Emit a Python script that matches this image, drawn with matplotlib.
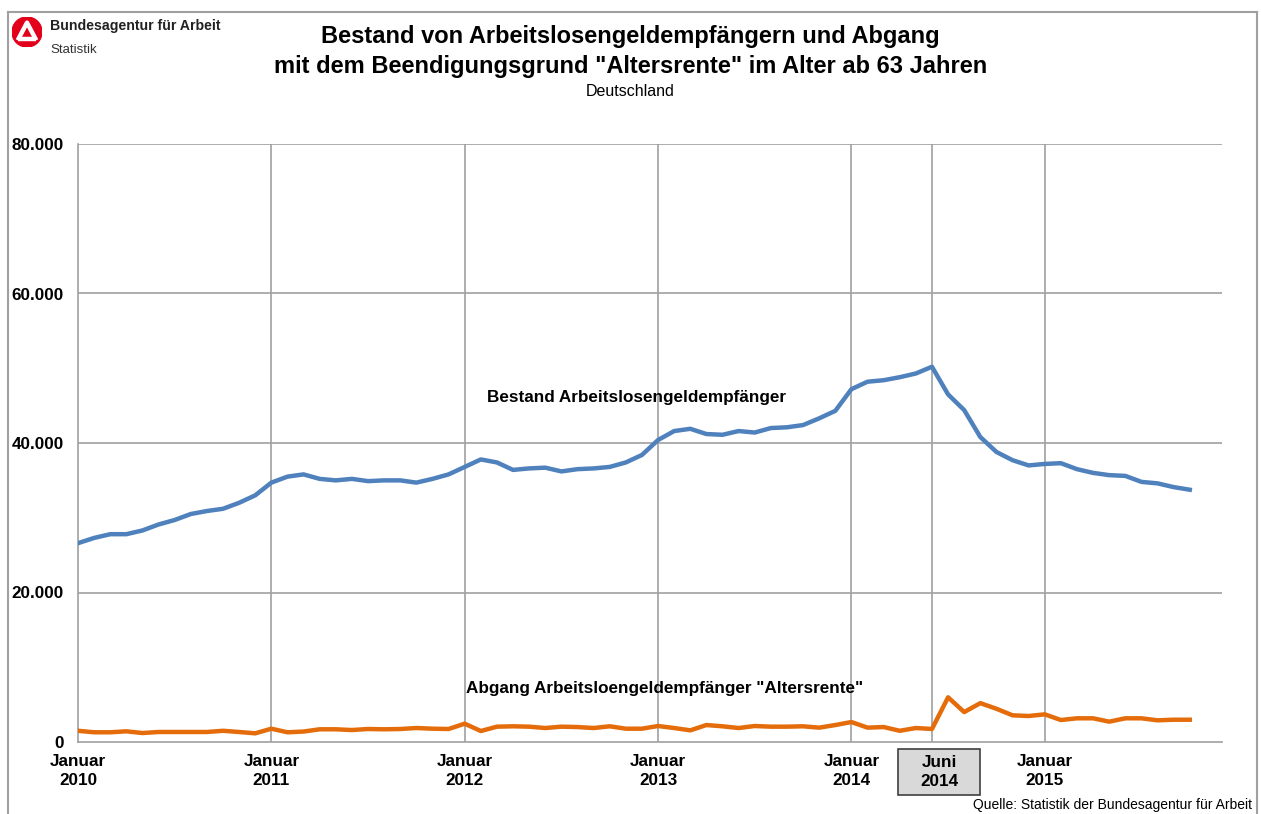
import numpy as np
import matplotlib.pyplot as plt
from matplotlib.patches import Circle, Rectangle
from matplotlib.lines import Line2D
import matplotlib.transforms as mtransforms

plt.rcParams['font.family'] = ['Liberation Sans', 'DejaVu Sans']

# Monatswerte Januar 2010 bis Oktober 2015
bestand = [26600, 27300, 27800, 27800, 28300, 29100, 29700, 30500, 30900, 31200, 32000, 33000,
           34700, 35500, 35800, 35200, 35000, 35200, 34900, 35000, 35000, 34700, 35200, 35800,
           36800, 37800, 37400, 36400, 36600, 36700, 36200, 36500, 36600, 36800, 37400, 38400,
           40400, 41600, 41900, 41200, 41100, 41600, 41400, 42000, 42100, 42400, 43300, 44300,
           47200, 48200, 48400, 48800, 49300, 50200, 46500, 44400, 40800, 38800, 37700, 37000,
           37200, 37300, 36500, 36000, 35700, 35600, 34800, 34600, 34100, 33750]
abgang = [1500, 1300, 1300, 1430, 1200, 1340, 1340, 1340, 1340, 1500, 1340, 1160,
          1780, 1300, 1400, 1700, 1700, 1600, 1740, 1700, 1740, 1870, 1780, 1740,
          2450, 1470, 2050, 2100, 2050, 1870, 2050, 2000, 1870, 2100, 1780, 1780,
          2140, 1870, 1560, 2270, 2100, 1870, 2140, 2050, 2050, 2100, 1920, 2270,
          2670, 1920, 2000, 1500, 1870, 1740, 5980, 4000, 5200, 4450, 3570, 3480,
          3700, 2940, 3170, 3170, 2720, 3170, 3170, 2900, 2980, 2980]

jahr_pos = [0, 12, 24, 36, 48, 60]
jahr_labels = ['Januar\n2010', 'Januar\n2011', 'Januar\n2012', 'Januar\n2013', 'Januar\n2014', 'Januar\n2015']
juni_pos = 53
juni_label = 'Juni\n2014'
y_ticks = [0, 20000, 40000, 60000, 80000]
y_labels = ['0', '20.000', '40.000', '60.000', '80.000']

W, H = 1261, 814
fig = plt.figure(figsize=(W / 100, H / 100), dpi=100)


def fx(px):
    return px / W


def fy(py):
    return 1 - py / H


ax = fig.add_axes([fx(78), fy(742), fx(1222) - fx(78), fy(144) - fy(742)])
grid_c = '#a0a0a0'

x = np.arange(len(bestand))
ax.plot(x, bestand, color='#4f81bd', lw=3.2, solid_joinstyle='round', zorder=3)
ax.plot(x, abgang, color='#e46c0a', lw=3.2, solid_joinstyle='round', zorder=3)

ax.set_xlim(0, 71)
ax.set_ylim(0, 80000)
for v in y_ticks[1:]:
    ax.axhline(v, color=grid_c, lw=1.2, zorder=1)
for p in jahr_pos[1:] + [juni_pos]:
    ax.axvline(p, color=grid_c, lw=1.2, zorder=1)

for s in ['top', 'right']:
    ax.spines[s].set_visible(False)
for s in ['left', 'bottom']:
    ax.spines[s].set_color(grid_c)
    ax.spines[s].set_linewidth(1.2)

ax.set_yticks(y_ticks)
ax.set_yticklabels(y_labels, fontsize=12.3, fontweight='bold')
ax.tick_params(axis='y', length=0, pad=10)
ax.set_xticks(jahr_pos)
ax.set_xticklabels(jahr_labels, fontsize=12.3, fontweight='bold', linespacing=1.3)
ax.tick_params(axis='x', length=0, pad=9)

# Juni 2014 label in grauem Kasten
trans = mtransforms.blended_transform_factory(ax.transData, fig.transFigure)
ax.add_patch(Rectangle((juni_pos - 2.1, fy(795)), 5.1, fy(749) - fy(795), transform=trans,
                       facecolor='#d9d9d9', edgecolor='#404040', lw=1.2, clip_on=False))
ax.text(juni_pos + 0.45, fy(772), juni_label, transform=trans, ha='center', va='center',
        fontsize=12.3, fontweight='bold', linespacing=1.3)

ax.text(fx(487), fy(397), 'Bestand Arbeitslosengeldempfänger', transform=fig.transFigure,
        fontsize=12.3, fontweight='bold', va='center', ha='left')
ax.text(fx(466), fy(688), 'Abgang Arbeitsloengeldempfänger "Altersrente"', transform=fig.transFigure,
        fontsize=12.3, fontweight='bold', va='center', ha='left')

# Titel
fig.text(0.5, fy(37), 'Bestand von Arbeitslosengeldempfängern und Abgang', ha='center', va='center',
         fontsize=17.0, fontweight='bold')
fig.text(0.5, fy(66), 'mit dem Beendigungsgrund "Altersrente" im Alter ab 63 Jahren', ha='center', va='center',
         fontsize=17.0, fontweight='bold')
fig.text(0.5, fy(92), 'Deutschland', ha='center', va='center', fontsize=11.5)
fig.text(fx(1252), fy(812), 'Quelle: Statistik der Bundesagentur für Arbeit', ha='right', va='bottom',
         fontsize=10)

# Rahmen
fig.add_artist(Line2D([fx(8), fx(8)], [fy(12), 0], color='#a0a0a0', lw=1.5))
fig.add_artist(Line2D([fx(8), fx(1257)], [fy(12), fy(12)], color='#a0a0a0', lw=1.5))
fig.add_artist(Line2D([fx(1257), fx(1257)], [fy(12), 0], color='#a0a0a0', lw=1.5))

# Logo
lax = fig.add_axes([fx(12), fy(47), 30 / W, 30 / H])
lax.set_xlim(-1, 1)
lax.set_ylim(-1, 1)
lax.axis('off')
lax.add_patch(Circle((0, 0), 1, color='#e2001a'))
lax.plot([-0.62, 0.0, 0.62], [-0.55, 0.62, -0.55], color='white', lw=3.2, solid_capstyle='butt')
lax.plot([-0.62, 0.62], [-0.48, -0.48], color='white', lw=3.2, solid_capstyle='butt')
fig.text(fx(50), fy(26), 'Bundesagentur für Arbeit', ha='left', va='center', fontsize=10.2,
         fontweight='bold', color='#222222')
fig.text(fx(50), fy(50), 'Statistik', ha='left', va='center', fontsize=9.5, color='#333333')

fig.savefig('out.png', dpi=100)
